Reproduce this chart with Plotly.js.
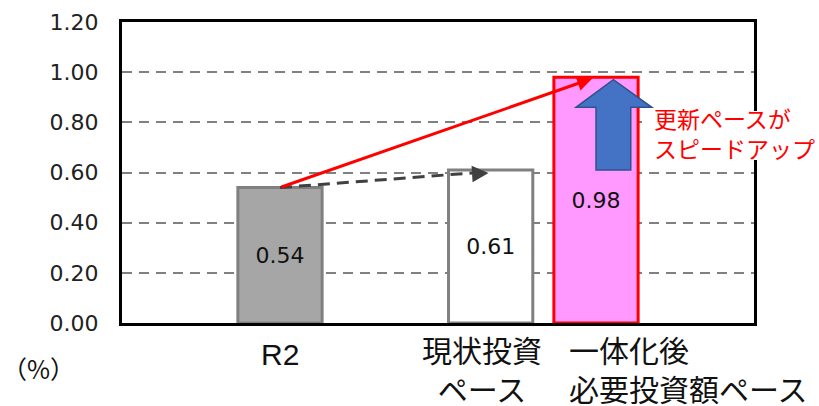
<!DOCTYPE html>
<html>
<head>
<meta charset="utf-8">
<script src="https://cdn.plot.ly/plotly-3.0.1.min.js"></script>
<style>
  html, body { margin: 0; padding: 0; background: #fff; }
  #chart { width: 819px; height: 406px; }
</style>
</head>
<body>
<div id="chart"></div>
<script>
// Investment pace (%), current vs. after integration
const categories = ["R2", "現状投資<br>ペース", "一体化後<br>必要投資額ペース"];
const values = [0.54, 0.61, 0.98];
const valueLabels = values.map(v => v.toFixed(2));
const yTicks = [0, 0.2, 0.4, 0.6, 0.8, 1.0, 1.2];
const noteLines = ["更新ペースが", "スピードアップ"];
const unitLabel = "（%）";

// ---- layout helpers ----
const slotX = [1, 3, 4];            // bar slots on the numeric x axis
const jpFont = "Liberation Sans, 'Noto Sans CJK JP', sans-serif";
const cjkFont = "'Noto Sans CJK JP', sans-serif";
const numFont = "'DejaVu Sans', sans-serif";

const bars = {
  type: "bar",
  x: slotX,
  y: values,
  width: 0.8,
  text: valueLabels,
  textposition: "inside",
  insidetextanchor: "middle",
  textangle: 0,
  constraintext: "none",
  textfont: { family: numFont, size: 22, color: "#111" },
  marker: {
    color: ["#a6a6a6", "#ffffff", "#ff99ff"],
    line: { color: ["#808080", "#808080", "#ff0000"], width: 3 }
  },
  hoverinfo: "skip"
};

// block arrow rising from the current pace to the required pace
const bx = slotX[2];
const tipY = values[2] - 0.01;
const baseY = values[1];
const headY = tipY - 0.11;
const blockArrow =
  `M ${bx},${baseY} L ${bx + 0.33},${baseY} L ${bx + 0.33},${headY} ` +
  `L ${bx + 0.53},${headY} L ${bx + 0.165},${tipY} L ${bx - 0.19},${headY} ` +
  `L ${bx},${headY} Z`;

const dashEndX = slotX[1] - 0.02;
const dashEndY = values[1] - 0.012;

const shapes = [
  // dashed trend from R2 toward the current pace
  {
    type: "line", xref: "x", yref: "y", layer: "above",
    x0: slotX[0], y0: values[0], x1: dashEndX - 0.1, y1: dashEndY + 0.002,
    line: { color: "#404040", width: 3, dash: "12px,7px" }
  },
  // white backing behind the note text
  {
    type: "rect", xref: "paper", yref: "paper", layer: "above",
    x0: 0.8228, x1: 1.082, y0: 0.5415, y1: 0.704,
    fillcolor: "#ffffff", line: { width: 0 }
  },
  {
    type: "path", xref: "x", yref: "y", layer: "above",
    path: blockArrow,
    fillcolor: "#4472c4", line: { color: "#2f528f", width: 1.5 }
  }
];

const annotations = [
  // red arrow: R2 to the required pace
  {
    x: slotX[2], y: values[2], xref: "x", yref: "y",
    ax: slotX[0], ay: values[0], axref: "x", ayref: "y",
    text: "", showarrow: true, arrowhead: 2, arrowsize: 1,
    arrowwidth: 3, arrowcolor: "#ff0000", standoff: 4
  },
  // head of the dashed trend
  {
    x: dashEndX, y: dashEndY, xref: "x", yref: "y",
    ax: -16, ay: 1, text: "", showarrow: true, arrowhead: 2,
    arrowsize: 1.1, arrowwidth: 3, arrowcolor: "#404040"
  },
  // note
  {
    x: 0.840, y: 0.624, xref: "paper", yref: "paper",
    xanchor: "left", yanchor: "middle", align: "left", showarrow: false,
    borderpad: 0,
    text: noteLines.join("<br>"),
    font: { family: jpFont, size: 23, color: "#ff0000" }
  },
  // unit
  {
    x: -0.132, y: -0.15, xref: "paper", yref: "paper",
    xanchor: "center", yanchor: "middle", showarrow: false,
    text: unitLabel, font: { family: cjkFont, size: 25, color: "#111" }
  },
  // category labels
  {
    x: slotX[0], y: -0.103, xref: "x", yref: "paper",
    xanchor: "center", yanchor: "middle", showarrow: false,
    text: categories[0], font: { family: jpFont, size: 30, color: "#111" }
  },
  {
    x: slotX[1], xshift: -9, y: -0.158, xref: "x", yref: "paper",
    xanchor: "center", yanchor: "middle", align: "center", showarrow: false,
    borderpad: 0,
    text: categories[1], font: { family: jpFont, size: 30, color: "#111" }
  },
  {
    x: slotX[2], xshift: -28, y: -0.158, xref: "x", yref: "paper",
    xanchor: "left", yanchor: "middle", align: "left", showarrow: false,
    borderpad: 0,
    text: categories[2], font: { family: jpFont, size: 30, color: "#111" }
  }
];

const layout = {
  width: 819,
  height: 406,
  margin: { l: 122, r: 65, t: 22, b: 83 },
  paper_bgcolor: "#ffffff",
  plot_bgcolor: "#ffffff",
  showlegend: false,
  xaxis: {
    range: [-0.5, 5.5],
    showticklabels: false, ticks: "", showgrid: false, zeroline: false,
    showline: true, mirror: true, linecolor: "#000", linewidth: 3,
    fixedrange: true
  },
  yaxis: {
    range: [0, 1.2],
    tickvals: yTicks,
    tickformat: ".2f",
    ticks: "",
    ticklabelstandoff: 16,
    tickfont: { family: numFont, size: 22, color: "#222" },
    showgrid: true, gridcolor: "#808080", gridwidth: 2, griddash: "10px,7px",
    zeroline: false,
    showline: true, mirror: true, linecolor: "#000", linewidth: 3,
    fixedrange: true
  },
  shapes: shapes,
  annotations: annotations
};

Plotly.newPlot("chart", [bars], layout, { staticPlot: true, displayModeBar: false });
</script>
</body>
</html>
